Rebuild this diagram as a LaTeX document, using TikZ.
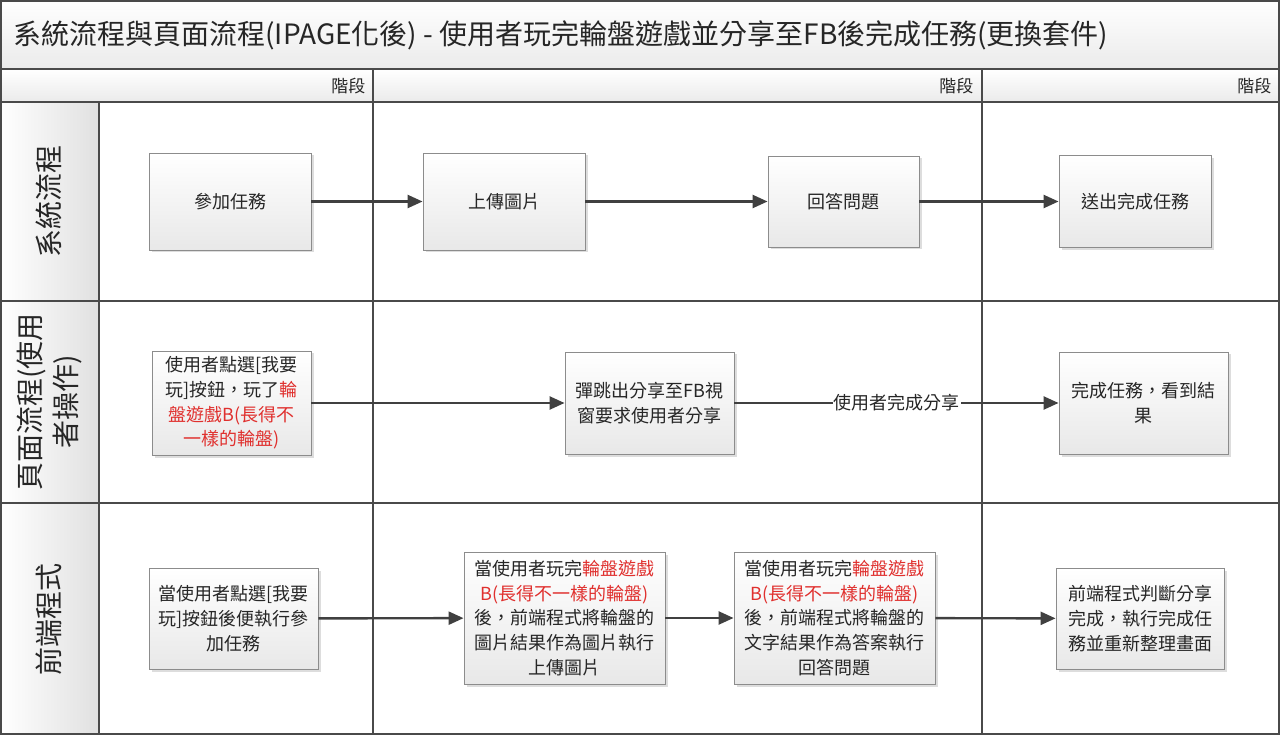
\documentclass[tikz,border=0pt]{standalone}
\usepackage{fontspec}
\setmainfont{Noto Sans CJK TC}
\usetikzlibrary{arrows.meta,shadows}
\definecolor{linec}{HTML}{4A4A4A}
\definecolor{boxline}{HTML}{8C8C8C}
\definecolor{txt}{HTML}{262626}
\definecolor{redc}{HTML}{E0302E}
\definecolor{arrc}{HTML}{404040}
\tikzset{
  card/.style={draw=boxline, line width=0.9pt, top color=white, bottom color=black!9,
    drop shadow={shadow xshift=2.5pt, shadow yshift=-2.5pt, fill=black!22, opacity=0.6},
    align=center, inner sep=0pt, text=txt, font=\fontsize{18}{24.7}\selectfont},
  flow/.style={draw=arrc, line width=2.4pt, -{Triangle[length=15pt,width=13pt]}},
  grid/.style={draw=linec, line width=2pt},
  lanelabel/.style={rotate=90, align=center, text=txt, font=\fontsize{28}{36}\selectfont},
  phase/.style={anchor=east, text=txt, font=\fontsize{17}{20}\selectfont},
  edgelabel/.style={fill=white, inner sep=1pt, text=txt, font=\fontsize{18}{22}\selectfont}
}
\newcommand{\rd}[1]{\textcolor{redc}{#1}}
\begin{document}
\begin{tikzpicture}[x=1pt,y=-1pt]
\useasboundingbox (0,0) rectangle (1280,735);
% backgrounds
\fill[white] (0,0) rectangle (1280,735);
\shade[top color=white, bottom color=black!8] (0,0) rectangle (1280,69);
\shade[top color=white, bottom color=black!8] (0,69) rectangle (1280,102);
\shade[left color=white, right color=black!12] (0,102) rectangle (99,735);
% grid
\draw[grid] (1,1) rectangle (1279,734);
\draw[grid] (0,69) -- (1280,69);
\draw[grid] (0,102) -- (1280,102);
\draw[grid] (0,301) -- (1280,301);
\draw[grid] (0,503) -- (1280,503);
\draw[grid] (99,102) -- (99,735);
\draw[grid] (373,69) -- (373,735);
\draw[grid] (982,69) -- (982,735);
% title
\node[anchor=west, text=txt, font=\fontsize{28}{32}\selectfont] (title) at (10,35)
  {系統流程與頁面流程(IPAGE化後) - 使用者玩完輪盤遊戲並分享至FB後完成任務(更換套件)};
% phases
\node[phase] (ph1) at (369,86) {階段};
\node[phase] (ph2) at (977,86) {階段};
\node[phase] (ph3) at (1275,86) {階段};
% lane labels
\node[lanelabel] (l1) at (49,202) {系統流程};
\node[lanelabel] (l2) at (49,402) {頁面流程(使用\\者操作)};
\node[lanelabel] (l3) at (49,619) {前端程式};
% row 1
\node[card, minimum width=162pt, minimum height=97pt] (n11) at (230,201.5) {參加任務};
\node[card, minimum width=162pt, minimum height=97pt] (n12) at (504,201.5) {上傳圖片};
\node[card, minimum width=151pt, minimum height=91pt] (n13) at (843.5,201.5) {回答問題};
\node[card, minimum width=152pt, minimum height=92pt] (n14) at (1135,201.5) {送出完成任務};
% row 2
\node[card, minimum width=159pt, minimum height=104pt] (n21) at (231.5,403)
  {使用者點選[我要\\玩]按鈕，玩了\rd{輪}\\\rd{盤遊戲B(長得不}\\\rd{一樣的輪盤)}};
\node[card, minimum width=169pt, minimum height=102pt] (n22) at (649.5,403)
  {彈跳出分享至FB視\\窗要求使用者分享};
\node[card, minimum width=169pt, minimum height=102pt] (n23) at (1143.5,403)
  {完成任務，看到結\\果};
% row 3
\node[card, minimum width=169pt, minimum height=101pt] (n31) at (233.5,618.5)
  {當使用者點選[我要\\玩]按鈕後便執行參\\加任務};
\node[card, minimum width=201pt, minimum height=132pt] (n32) at (564.5,618)
  {當使用者玩完\rd{輪盤遊戲}\\\rd{B(長得不一樣的輪盤)}\\後，前端程式將輪盤的\\圖片結果作為圖片執行\\上傳圖片};
\node[card, minimum width=201pt, minimum height=132pt] (n33) at (834.5,618)
  {當使用者玩完\rd{輪盤遊戲}\\\rd{B(長得不一樣的輪盤)}\\後，前端程式將輪盤的\\文字結果作為答案執行\\回答問題};
\node[card, minimum width=168pt, minimum height=101pt] (n34) at (1140,618.5)
  {前端程式判斷分享\\完成，執行完成任\\務並重新整理畫面};
% connectors
\draw[flow] (n11) -- (n12);
\draw[flow] (n12) -- (n13);
\draw[flow] (n13) -- (n14);
\draw[flow] (n21) -- (n22);
\draw[flow] (n22) -- node[edgelabel] (e1) {使用者完成分享} (n23);
\draw[flow] (n31) -- (n32);
\draw[flow] (n32) -- (n33);
\draw[flow] (n33) -- (n34);
\end{tikzpicture}
\end{document}
